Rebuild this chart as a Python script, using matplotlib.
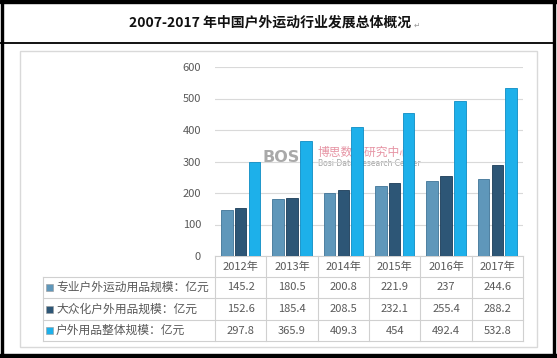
import numpy as np
import matplotlib.pyplot as plt
from matplotlib.patches import Rectangle

plt.rcParams['font.family'] = ['Noto Sans CJK SC', 'DejaVu Sans']

# 数据
years = ['2012年', '2013年', '2014年', '2015年', '2016年', '2017年']
series_names = ['专业户外运动用品规模：亿元', '大众化户外用品规模：亿元', '户外用品整体规模：亿元']
pro = [145.2, 180.5, 200.8, 221.9, 237, 244.6]
mass = [152.6, 185.4, 208.5, 232.1, 255.4, 288.2]
total = [297.8, 365.9, 409.3, 454, 492.4, 532.8]
pro_lbl = ['145.2', '180.5', '200.8', '221.9', '237', '244.6']
mass_lbl = ['152.6', '185.4', '208.5', '232.1', '255.4', '288.2']
total_lbl = ['297.8', '365.9', '409.3', '454', '492.4', '532.8']
colors = ['#5F97BA', '#2D5676', '#1DB0EA']
edges = ['#3F7497', '#1B3C57', '#0E8CC4']

W, H = 557, 358
fig = plt.figure(figsize=(W / 100, H / 100), dpi=100)

# 覆盖整张图的像素坐标层
bg = fig.add_axes([0, 0, 1, 1])
bg.set_xlim(0, W)
bg.set_ylim(H, 0)
bg.axis('off')

# 外框和标题
bg.add_patch(Rectangle((0, 0), W, 2.5, color='black'))
bg.add_patch(Rectangle((0.5, 0), 2.5, H, color='black'))
bg.add_patch(Rectangle((553, 0), 2, H, color='black'))
bg.add_patch(Rectangle((0, 354), W, 4, color='black'))
bg.plot([0, 555], [43, 43], color='black', lw=1.3)
bg.text(270, 22, '2007-2017 年中国户外运动行业发展总体概况', ha='center', va='center',
        fontsize=10, fontweight='bold', color='#111111')
bg.text(414, 25, '↵', ha='left', va='center', fontsize=5.5, color='#999999', family='DejaVu Sans')

# 图表区浅灰框
bg.add_patch(Rectangle((20, 51), 517, 296, fill=False, ec='#D9D9D9', lw=1))

# 柱状图坐标区
x0, x1, ytop, ybot = 215, 523, 67, 256
ax = fig.add_axes([x0 / W, 1 - ybot / H, (x1 - x0) / W, (ybot - ytop) / H])
x = np.arange(len(years))
bw = 0.225
for i, (vals, c, ec) in enumerate(zip([pro, mass, total], colors, edges)):
    ax.bar(x + (i - 1) * 0.27, vals, width=bw, color=c, edgecolor=ec, linewidth=0.6, zorder=3)
ax.set_xlim(-0.5, len(years) - 0.5)
ax.set_ylim(0, 600)
ax.set_yticks(range(0, 601, 100))
ax.yaxis.grid(True, color='#D9D9D9', lw=0.8, zorder=0)
ax.set_xticks([])
ax.tick_params(axis='y', length=0, pad=10, labelsize=8, labelcolor='#595959')
for s in ax.spines.values():
    s.set_visible(False)
ax.patch.set_alpha(0)

# 水印
bg.add_patch(Rectangle((262, 146), 150, 24, color='white', alpha=0.55, zorder=5))
bg.text(262, 157, 'BOSi', fontsize=11.5, fontweight='bold', color='#8C8C8C', alpha=0.75,
        va='center', ha='left', family='DejaVu Sans', zorder=6)
bg.text(318, 152, '博思数据研究中心', fontsize=8.5, color='#E07A8E', alpha=0.8,
        va='center', ha='left', zorder=6)
bg.text(318, 164, 'Bosi Data Research Center', fontsize=5.5, color='#8C8C8C', alpha=0.8,
        va='center', ha='left', family='DejaVu Sans', zorder=6)

# 数据表
gc = '#D0D0D0'
tc = '#595959'
rows_y = [256, 277, 298, 320, 341]
colw = (x1 - x0) / len(years)
bg.plot([x0, x1], [256, 256], color=gc, lw=0.8)
for yy in rows_y[1:]:
    bg.plot([43, x1], [yy, yy], color=gc, lw=0.8)
bg.plot([43, 43], [277, 341], color=gc, lw=0.8)
for k in range(len(years) + 1):
    xx = x0 + k * colw
    bg.plot([xx, xx], [256, 341], color=gc, lw=0.8)

for k, yr in enumerate(years):
    bg.text(x0 + (k + 0.5) * colw, 267, yr, ha='center', va='center', fontsize=8, color=tc)

for r, (name, lbls, c) in enumerate(zip(series_names, [pro_lbl, mass_lbl, total_lbl], colors)):
    yc = (rows_y[r + 1] + rows_y[r + 2]) / 2
    bg.add_patch(Rectangle((46, yc - 3.5), 7, 7, color=c, ec='#999999', lw=0.4))
    bg.text(56, yc, name, ha='left', va='center', fontsize=8.5, color=tc)
    for k, v in enumerate(lbls):
        bg.text(x0 + (k + 0.5) * colw, yc, v, ha='center', va='center', fontsize=8, color=tc)

fig.savefig('out.png', dpi=100)
